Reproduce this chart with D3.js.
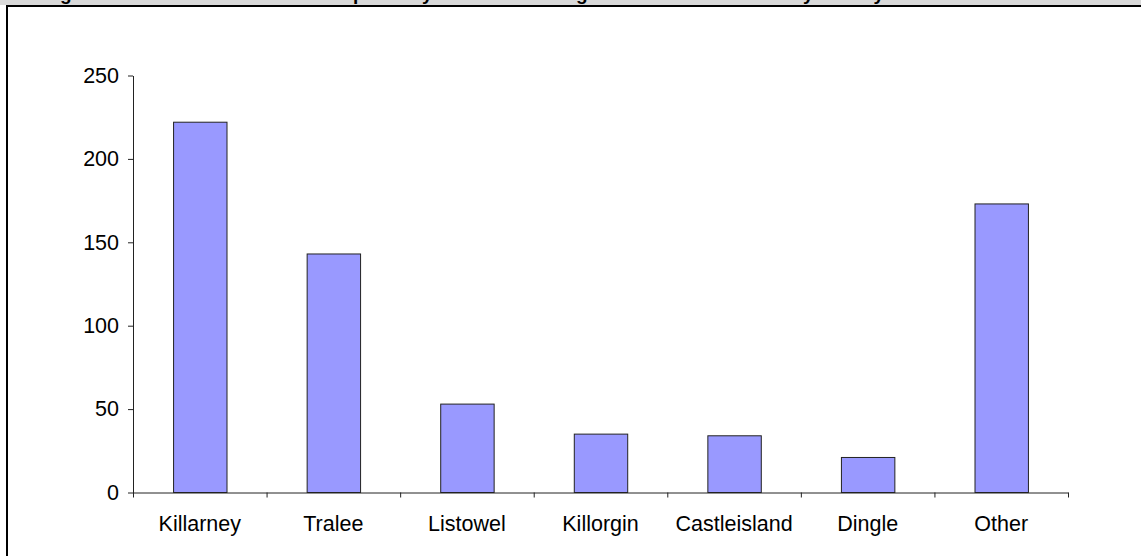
<!DOCTYPE html>
<html>
<head>
<meta charset="utf-8">
<script src="https://cdn.jsdelivr.net/npm/d3@7"></script>
<style>
  body { margin: 0; background: #fff; }
  svg { display: block; font-family: Arial, "Liberation Sans", sans-serif; }
</style>
</head>
<body>
<div id="chart"></div>
<script>
// data
var caption = "Figure 4.3: Location of Hospitality and Catering Services in County Kerry";
var categories = ["Killarney", "Tralee", "Listowel", "Killorgin", "Castleisland", "Dingle", "Other"];
var counts = [222, 143, 53, 35, 34, 21, 173];
var yTicks = [0, 50, 100, 150, 200, 250];

var W = 1141, H = 556;
var margin = { top: 75.5, right: 73, bottom: 63.5, left: 133 };
var width = W - margin.left - margin.right,
    height = H - margin.top - margin.bottom;
var labelFont = 21.5;

var svg = d3.select("#chart").append("svg")
    .attr("width", W)
    .attr("height", H);

// page strip above the frame, with the clipped caption
svg.append("rect")
    .attr("x", 0).attr("y", 0)
    .attr("width", W).attr("height", 5)
    .attr("fill", "#d9d9d9");

svg.append("clipPath").attr("id", "capclip")
    .append("rect").attr("x", 0).attr("y", 0).attr("width", W).attr("height", 6);

svg.append("text")
    .attr("clip-path", "url(#capclip)")
    .attr("x", 38)
    .attr("y", -0.5)
    .attr("font-weight", "bold")
    .attr("font-size", 19)
    .attr("textLength", 846)
    .attr("fill", "#000")
    .text(caption);

// chart frame (top and left edges visible)
svg.append("line")
    .attr("x1", 6).attr("x2", W).attr("y1", 6).attr("y2", 6)
    .attr("stroke", "#000").attr("stroke-width", 2);
svg.append("line")
    .attr("x1", 7).attr("x2", 7).attr("y1", 5).attr("y2", H)
    .attr("stroke", "#000").attr("stroke-width", 2);

var g = svg.append("g")
    .attr("transform", "translate(" + margin.left + "," + margin.top + ")");

var x = d3.scaleBand()
    .domain(categories)
    .range([0, width])
    .padding(0);

var y = d3.scaleLinear()
    .domain([0, 250])
    .range([height, 0]);

// y axis
var yAxis = g.append("g")
    .call(d3.axisLeft(y).tickValues(yTicks).tickSize(5).tickSizeOuter(0).tickPadding(9));
yAxis.selectAll("text")
    .attr("font-size", labelFont)
    .attr("fill", "#000")
    .attr("font-family", "Arial, 'Liberation Sans', sans-serif");
yAxis.selectAll("line, path").attr("stroke", "#222");

// bars
var barW = x.bandwidth() * 0.4;
g.selectAll(".bar")
    .data(categories)
    .enter()
    .append("rect")
    .attr("class", "bar")
    .attr("x", function(d) { return x(d) + (x.bandwidth() - barW) / 2 + 0.5; })
    .attr("y", function(d, i) { return y(counts[i]); })
    .attr("width", barW)
    .attr("height", function(d, i) { return height - y(counts[i]); })
    .attr("fill", "#9999ff")
    .attr("stroke", "#222")
    .attr("stroke-width", 1);

// x axis: labels centred, ticks at category boundaries
var xAxis = g.append("g")
    .attr("transform", "translate(0," + height + ")")
    .call(d3.axisBottom(x).tickSize(0).tickSizeOuter(0).tickPadding(23));
xAxis.selectAll("text")
    .attr("font-size", labelFont)
    .attr("fill", "#000")
    .attr("font-family", "Arial, 'Liberation Sans', sans-serif");
xAxis.select(".domain").attr("stroke", "#222");

var bounds = categories.map(function(d) { return x(d); }).concat([x.range()[1]]);
xAxis.selectAll(".bound")
    .data(bounds)
    .enter()
    .append("line")
    .attr("class", "bound")
    .attr("x1", function(d) { return d + 0.5; })
    .attr("x2", function(d) { return d + 0.5; })
    .attr("y1", 0)
    .attr("y2", 5)
    .attr("stroke", "#222");
</script>
</body>
</html>
